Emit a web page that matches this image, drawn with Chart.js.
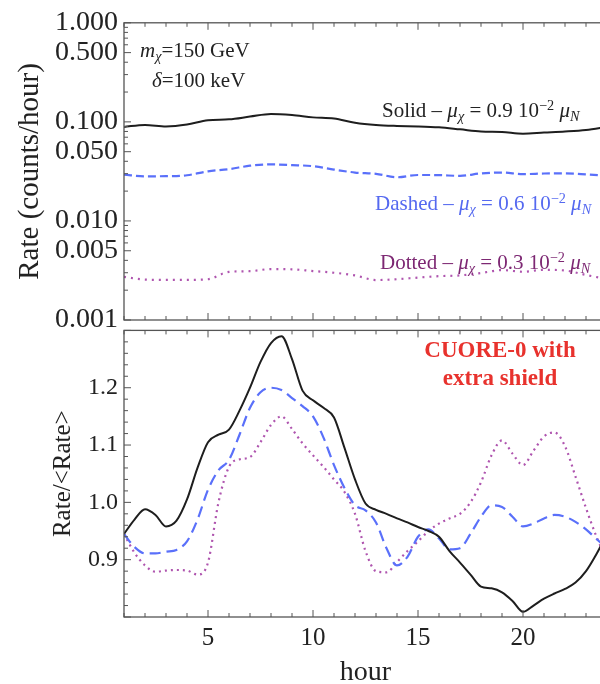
<!DOCTYPE html>
<html>
<head>
<meta charset="utf-8">
<script src="https://cdn.jsdelivr.net/npm/chart.js@4.4.1/dist/chart.umd.min.js"></script>
<style>
html,body{margin:0;padding:0;background:#fff;width:600px;height:684px;overflow:hidden;position:relative}
canvas{position:absolute;left:0}
#topChart{top:0}
#botChart{top:310px}
.note{position:absolute;font-family:'Liberation Serif','Times New Roman',serif;white-space:nowrap;line-height:1;color:#222}
.note sub,.note sup{font-size:68%;line-height:0;position:relative;vertical-align:baseline}
.note sub{top:0.3em}
.note sup{top:-0.5em}
.cuore{font-weight:bold;color:#e8322d;text-align:center;line-height:28px;transform:translateX(-50%)}
</style>
</head>
<body>
<canvas id="topChart" width="612" height="345"></canvas>
<canvas id="botChart" width="612" height="380"></canvas>

<div class="note" style="left:140px;top:40px;font-size:21px"><i>m</i><sub><i>χ</i></sub>=150 GeV</div>
<div class="note" style="left:152px;top:70px;font-size:21px"><i>δ</i>=100 keV</div>
<div class="note" style="left:382px;top:100px;font-size:21px">Solid – <i>μ</i><sub><i>χ</i></sub> = 0.9 10<sup>−2</sup> <i>μ</i><sub><i>N</i></sub></div>
<div class="note" style="left:375px;top:193px;font-size:21px;color:rgb(85,105,240)">Dashed – <i>μ</i><sub><i>χ</i></sub> = 0.6 10<sup>−2</sup> <i>μ</i><sub><i>N</i></sub></div>
<div class="note" style="left:380px;top:252px;font-size:21px;color:rgb(125,40,115)">Dotted – <i>μ</i><sub><i>χ</i></sub> = 0.3 10<sup>−2</sup> <i>μ</i><sub><i>N</i></sub></div>
<div class="note cuore" style="left:500px;top:336px;font-size:23px">CUORE-0 with<br>extra shield</div>

<script>
// ---- data ----
// top panel: absolute rate, one point per hour
const hoursTop = [1,2,3,4,5,6,7,8,9,10,11,12,13,14,15,16,17,18,19,20,21,22,23,24];
const solidRate  = [0.089,0.093,0.090,0.094,0.104,0.106,0.113,0.120,0.117,0.111,0.108,0.098,0.093,0.091,0.090,0.088,0.084,0.080,0.079,0.076,0.078,0.080,0.083,0.089];
const dashedRate = [0.0293,0.0282,0.0283,0.0289,0.0317,0.0333,0.0361,0.0372,0.0366,0.0357,0.0330,0.0308,0.0299,0.0276,0.0291,0.0290,0.0285,0.0302,0.0308,0.0297,0.0301,0.0302,0.0295,0.0285];
const dottedRate = [0.00272,0.00256,0.00254,0.00254,0.00258,0.00306,0.00311,0.00327,0.00325,0.00312,0.00300,0.00282,0.00253,0.00258,0.00268,0.00277,0.00282,0.00298,0.00319,0.00307,0.00321,0.00316,0.00285,0.00259];

// bottom panel: rate / <rate>, every half hour
const hoursBot = [1,1.5,2,2.5,3,3.5,4,4.5,5,5.5,6,6.5,7,7.5,8,8.5,9,9.5,10,10.5,11,11.5,12,12.5,13,13.5,14,14.5,15,15.5,16,16.5,17,17.5,18,18.5,19,19.5,20,20.5,21,21.5,22,22.5,23,23.5,24];
const solidRatio  = [0.945,0.970,0.988,0.978,0.958,0.968,1.005,1.060,1.105,1.118,1.127,1.160,1.200,1.245,1.278,1.290,1.250,1.195,1.178,1.165,1.148,1.095,1.040,0.998,0.987,0.980,0.972,0.965,0.957,0.950,0.940,0.915,0.895,0.874,0.853,0.850,0.843,0.828,0.809,0.820,0.832,0.841,0.849,0.860,0.880,0.910,0.945];
const dashedRatio = [0.945,0.922,0.911,0.911,0.914,0.917,0.932,0.970,1.022,1.056,1.074,1.118,1.165,1.192,1.200,1.196,1.182,1.168,1.150,1.113,1.065,1.025,0.995,0.986,0.965,0.920,0.890,0.905,0.940,0.953,0.937,0.918,0.920,0.945,0.975,0.995,0.992,0.975,0.958,0.963,0.972,0.978,0.975,0.966,0.953,0.936,0.920];
const dottedRatio = [0.945,0.912,0.890,0.879,0.881,0.882,0.881,0.874,0.895,1.000,1.062,1.075,1.079,1.105,1.135,1.150,1.128,1.103,1.082,1.062,1.040,1.018,0.980,0.915,0.880,0.878,0.896,0.915,0.932,0.950,0.963,0.972,0.980,1.000,1.035,1.082,1.108,1.085,1.065,1.090,1.115,1.122,1.098,1.045,0.990,0.940,0.900];

// axis ticks
const rateTicks  = [0.001,0.005,0.01,0.05,0.1,0.5,1];
const ratioTicks = [0.9,1.0,1.1,1.2];
const hourLabels = [5,10,15,20];

const FONT = "'Liberation Serif','Times New Roman',serif";
const INK = '#222';

const styles = {
  solid:  {borderColor:'#1e1e1e', borderWidth:2},
  dashed: {borderColor:'rgb(90,112,250)', borderWidth:2.2, borderDash:[11,6]},
  dotted: {borderColor:'rgb(175,85,175)', borderWidth:2.2, borderDash:[2,4]}
};

function series(xs, ys, style){
  return Object.assign({
    data: xs.map((x,i)=>({x, y: ys[i]})),
    pointRadius:0, fill:false, cubicInterpolationMode:'monotone'
  }, style);
}

// minor/major tick lists for the frame
const hourTicks = [];
for(let h=1;h<=24;h++) hourTicks.push([h, h%5===0 ? 7 : 4]);
const logTicks = [];
for(let d=-3; d<0; d++){
  for(let k=1;k<=9;k++){
    const v = k*Math.pow(10,d);
    logTicks.push([v, (k===1||k===5) ? 7 : 4]);
  }
}
logTicks.push([1,7]);
const linTicks = [];
for(let i=0;i<=25;i++){
  const v = 0.8 + i*0.02;
  linTicks.push([v, (i%5===0) ? 7 : 4]);
}

// frame with inward ticks, mathematica style
const framePlugin = {
  id:'frame',
  afterDatasetsDraw(chart, args, opts){
    const {ctx, chartArea:a} = chart;
    const x = chart.scales.x, y = chart.scales.y;
    ctx.save();
    ctx.strokeStyle = '#555';
    ctx.lineWidth = 1.3;
    ctx.strokeRect(a.left, a.top, a.right-a.left, a.bottom-a.top);
    ctx.lineWidth = 1;
    ctx.beginPath();
    opts.xTicks.forEach(([v,len])=>{
      const px = x.getPixelForValue(v);
      ctx.moveTo(px,a.top); ctx.lineTo(px,a.top+len);
      ctx.moveTo(px,a.bottom); ctx.lineTo(px,a.bottom-len);
    });
    opts.yTicks.forEach(([v,len])=>{
      const py = y.getPixelForValue(v);
      ctx.moveTo(a.left,py); ctx.lineTo(a.left+len,py);
      ctx.moveTo(a.right,py); ctx.lineTo(a.right-len,py);
    });
    ctx.stroke();
    ctx.restore();
  }
};

// top panel
new Chart(document.getElementById('topChart'), {
  type:'line',
  data:{datasets:[
    series(hoursTop, solidRate, styles.solid),
    series(hoursTop, dashedRate, Object.assign({}, styles.dashed, {borderDash:[8,4]})),
    series(hoursTop, dottedRate, Object.assign({}, styles.dotted, {borderDash:[2,5]}))
  ]},
  options:{
    responsive:false, animation:false,
    layout:{padding:{top:22,right:5,bottom:25,left:0}},
    plugins:{legend:{display:false}, tooltip:{enabled:false}, frame:{xTicks:hourTicks, yTicks:logTicks}},
    scales:{
      x:{type:'linear', min:1, max:24, display:false},
      y:{
        type:'logarithmic', min:0.001, max:1,
        afterFit(s){ s.width = 124; },
        afterBuildTicks(s){ s.ticks = rateTicks.map(v=>({value:v})); },
        grid:{display:false, drawTicks:false}, border:{display:false},
        ticks:{padding:6, color:INK, font:{family:FONT, size:28}, callback:v=>Number(v).toFixed(3)},
        title:{display:true, text:'Rate (counts/hour)', color:INK, font:{family:FONT, size:29}, padding:{top:13,bottom:0}}
      }
    }
  },
  plugins:[framePlugin]
});

// bottom panel
new Chart(document.getElementById('botChart'), {
  type:'line',
  data:{datasets:[
    series(hoursBot, solidRatio, styles.solid),
    series(hoursBot, dashedRatio, styles.dashed),
    series(hoursBot, dottedRatio, styles.dotted)
  ]},
  options:{
    responsive:false, animation:false,
    layout:{padding:{top:10,right:5,bottom:0,left:0}},
    plugins:{legend:{display:false}, tooltip:{enabled:false}, frame:{xTicks:hourTicks, yTicks:linTicks}},
    scales:{
      x:{
        type:'linear', min:1, max:24,
        afterFit(s){ s.height = 73; },
        afterBuildTicks(s){ s.ticks = hourLabels.map(v=>({value:v})); },
        grid:{display:false, drawTicks:false}, border:{display:false},
        ticks:{padding:6, maxRotation:0, color:INK, font:{family:FONT, size:25}},
        title:{display:true, text:'hour', color:INK, font:{family:FONT, size:28}, padding:{top:0,bottom:1}}
      },
      y:{
        type:'linear', min:0.8, max:1.3,
        afterFit(s){ s.width = 124; },
        afterBuildTicks(s){ s.ticks = ratioTicks.map(v=>({value:v})); },
        grid:{display:false, drawTicks:false}, border:{display:false},
        ticks:{padding:6, color:INK, font:{family:FONT, size:24}, callback:v=>Number(v).toFixed(1)},
        title:{display:true, text:'Rate/<Rate>', color:INK, font:{family:FONT, size:25}, padding:{top:48,bottom:0}}
      }
    }
  },
  plugins:[framePlugin]
});
</script>
</body>
</html>
